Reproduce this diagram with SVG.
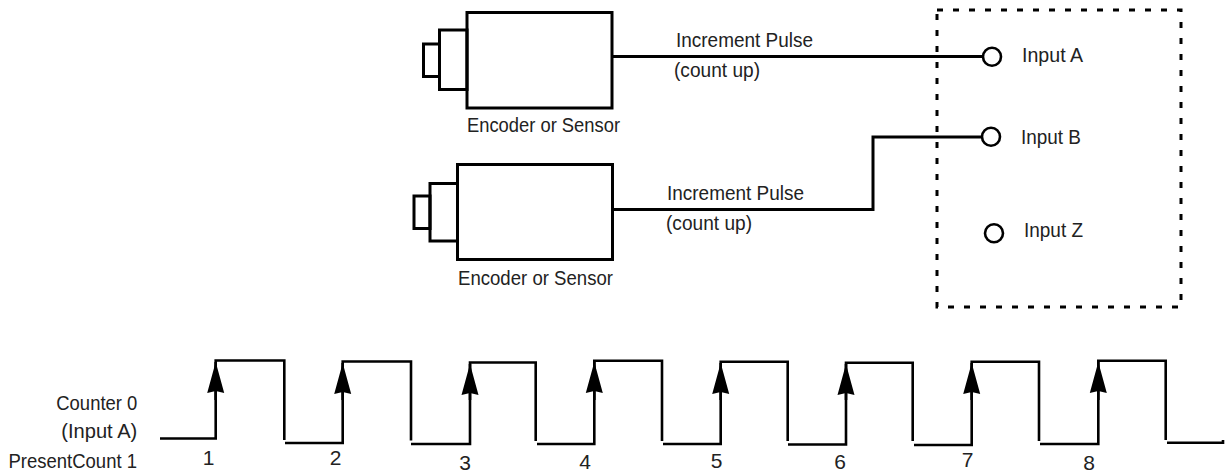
<svg xmlns="http://www.w3.org/2000/svg" width="1225" height="473" viewBox="0 0 1225 473">
<style>
text{font-family:"Liberation Sans",Arial,sans-serif;font-size:21px;fill:#222}
.s{fill:none;stroke:#000;stroke-width:3}
.w{fill:none;stroke:#000;stroke-width:2.6}
.c{fill:#fff;stroke:#000;stroke-width:2.6}
.d{fill:none;stroke:#000;stroke-width:3;stroke-dasharray:6 10}
</style>
<defs>
<marker id="ah" viewBox="0 0 31 18" refX="31" refY="9" markerWidth="31" markerHeight="18" markerUnits="userSpaceOnUse" orient="auto">
<path d="M31 9 L0 0.5 L2 9 L0 17.5 Z" fill="#000"/>
</marker>
</defs>
<rect width="1225" height="473" fill="#fff"/>
<g id="encoder1">
<rect class="s" x="467" y="12.5" width="145" height="95.5"/>
<rect class="s" x="439.5" y="30" width="27.5" height="59.5"/>
<rect class="s" x="423.5" y="44" width="16" height="32.5"/>
<text x="467" y="132" textLength="153" lengthAdjust="spacingAndGlyphs">Encoder or Sensor</text>
</g>
<g id="encoder2">
<rect class="s" x="457.5" y="164.5" width="155" height="95"/>
<rect class="s" x="430" y="183.5" width="27.5" height="57.5"/>
<rect class="s" x="414" y="196" width="16" height="32.5"/>
<text x="458" y="285" textLength="155" lengthAdjust="spacingAndGlyphs">Encoder or Sensor</text>
</g>
<g id="module">
<rect class="d" x="937" y="10" width="244" height="297"/>
<circle class="c" cx="992" cy="56.7" r="9"/>
<text x="1022" y="62" textLength="61" lengthAdjust="spacingAndGlyphs">Input A</text>
<circle class="c" cx="991" cy="136.7" r="9"/>
<text x="1021" y="143.5" textLength="60" lengthAdjust="spacingAndGlyphs">Input B</text>
<circle class="c" cx="994" cy="233.3" r="9"/>
<text x="1024" y="237" textLength="59" lengthAdjust="spacingAndGlyphs">Input Z</text>
</g>
<g id="connectors">
<path class="s" d="M612 56.5 H983"/>
<path class="s" d="M612 209.5 H873 V137 H982"/>
<text x="676" y="47" textLength="137" lengthAdjust="spacingAndGlyphs">Increment Pulse</text>
<text x="674" y="77" textLength="86" lengthAdjust="spacingAndGlyphs">(count up)</text>
<text x="667" y="200" textLength="137" lengthAdjust="spacingAndGlyphs">Increment Pulse</text>
<text x="666" y="230" textLength="86" lengthAdjust="spacingAndGlyphs">(count up)</text>
</g>
<g id="timing">
<path class="w" d="M160 438.5 H215.7 V360.5 H284.3 V440 M285 443 H342.7 V361.5 H411 V440.5 M411 444 H470 V362.5 H535.7 V441 M537 444 H594.3 V360.7 H662 V441 M663 444 H720.7 V361.7 H787.7 V441 M788 444.5 H846 V362.7 H912.7 V441 M914 445 H971.7 V361.7 H1039 V441 M1040 444 H1098.3 V360.7 H1165.7 V440 M1167 442.7 H1223 V440"/>
<g stroke="#000" stroke-width="2.6" marker-end="url(#ah)">
<line x1="215.7" y1="400" x2="215.7" y2="362"/>
<line x1="342.7" y1="400" x2="342.7" y2="363"/>
<line x1="470" y1="400" x2="470" y2="364"/>
<line x1="594.3" y1="400" x2="594.3" y2="362"/>
<line x1="720.7" y1="400" x2="720.7" y2="363"/>
<line x1="846" y1="400" x2="846" y2="364"/>
<line x1="971.7" y1="400" x2="971.7" y2="363"/>
<line x1="1098.3" y1="400" x2="1098.3" y2="362"/>
</g>
<g text-anchor="middle">
<text x="208.5" y="464.5">1</text>
<text x="335.5" y="464.5">2</text>
<text x="465" y="470">3</text>
<text x="585" y="469">4</text>
<text x="716.7" y="467.5">5</text>
<text x="840" y="469">6</text>
<text x="967.5" y="466.5">7</text>
<text x="1089" y="469.5">8</text>
</g>
<g text-anchor="end">
<text x="137.3" y="410" textLength="81" lengthAdjust="spacingAndGlyphs">Counter 0</text>
<text x="137.3" y="437.5" textLength="76" lengthAdjust="spacingAndGlyphs">(Input A)</text>
<text x="137" y="467.5" textLength="128.5" lengthAdjust="spacingAndGlyphs">PresentCount 1</text>
</g>
</g>
</svg>
